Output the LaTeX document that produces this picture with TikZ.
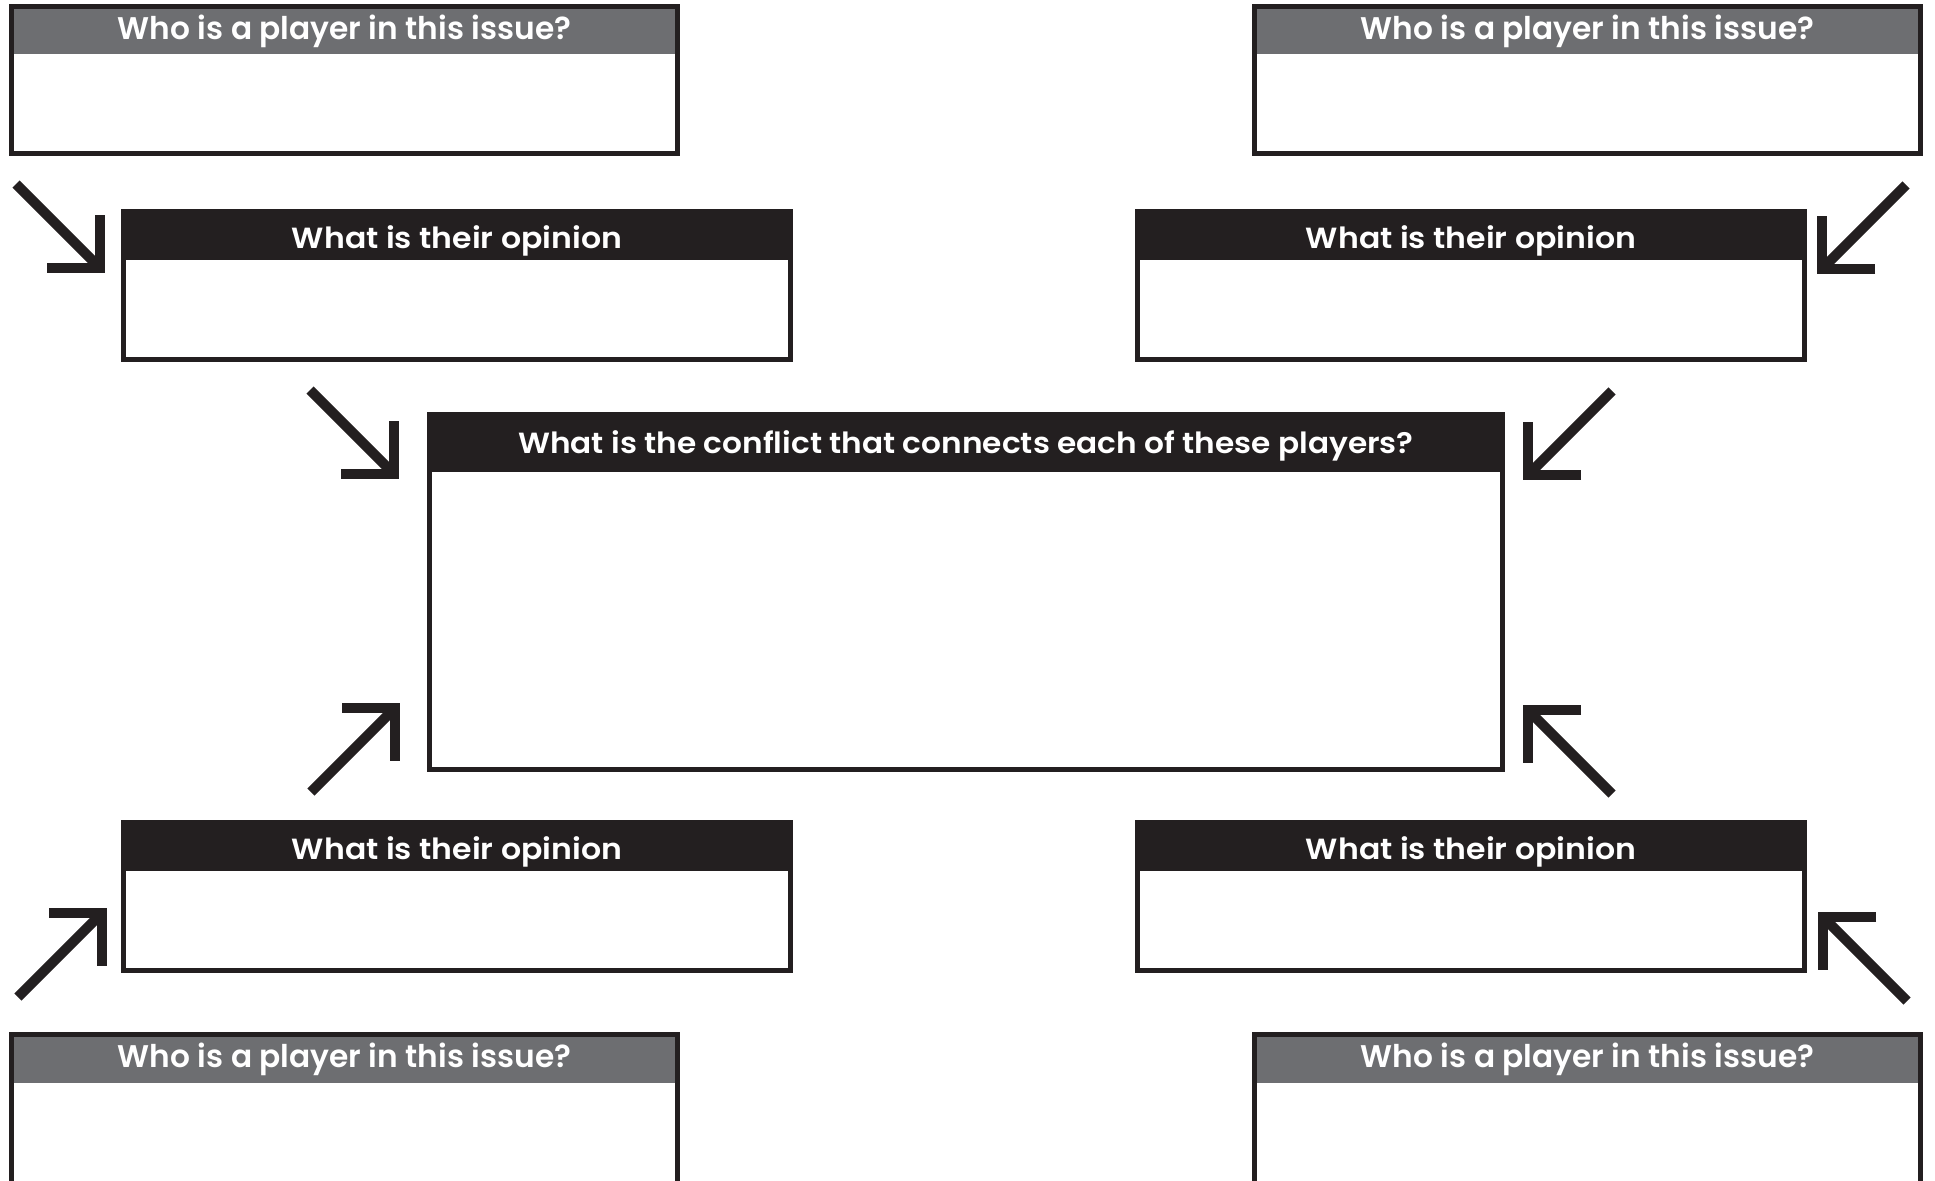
\documentclass[tikz,border=0pt]{standalone}
\usepackage{fontspec}
\setmainfont{Poppins}[BoldFont={Poppins SemiBold}]
\usepackage{graphicx}
\definecolor{ink}{HTML}{231F20}
\definecolor{hgray}{HTML}{6D6E71}
\tikzset{
  boxline/.style={draw=ink, line width=0.05cm, inner sep=0pt, outer sep=0pt, rectangle},
  arrowline/.style={draw=ink, line width=0.10cm, line join=miter, line cap=butt},
  headtext/.style={text=white, inner sep=0pt, outer sep=0pt, anchor=base, font=\bfseries},
}
% name, x0, y0, x1, y1, header bottom, header colour
\newcommand\qbox[7]{%
  \fill[#7] (#2,#3) rectangle (#4,#6);
  \node[boxline, minimum width={(#4-#2-5)*0.01cm}, minimum height={(#5-#3-5)*0.01cm}] (#1) at ({(#2+#4)/2},{(#3+#5)/2}) {};
}
% name, x centre, baseline, width, font size (pt), text
\newcommand\qtext[6]{%
  \node[headtext] (#1) at (#2,#3) {\fontsize{#5}{#5}\selectfont\resizebox{#4}{\height}{#6}};
}
% name, corner x, corner y, dir x, dir y
\newcommand\qarrow[5]{%
  \coordinate (#1c) at (#2,#3);
  \coordinate (#1t) at ({#2-84*#4},{#3-84*#5});
  \coordinate (#1a) at ({#2-53*#4},#3);
  \coordinate (#1b) at (#2,{#3-53*#5});
  \draw[arrowline] (#1t) -- (#1c);
  \draw[arrowline] (#1a) -- (#1c) -- (#1b);
}
\begin{document}
\begin{tikzpicture}[x=0.01cm, y=-0.01cm]
  \useasboundingbox (0,0) rectangle (1935,1181);
  \clip (0,0) rectangle (1935,1181);
  % player boxes
  \qbox{p1}{9}{4}{680}{156}{54}{hgray}
  \qbox{p2}{1252}{4}{1923}{156}{54}{hgray}
  \qbox{p3}{9}{1032}{680}{1200}{1083}{hgray}
  \qbox{p4}{1252}{1032}{1923}{1200}{1083}{hgray}
  % opinion boxes
  \qbox{o1}{121}{209}{793}{362}{260}{ink}
  \qbox{o2}{1135}{209}{1807}{362}{260}{ink}
  \qbox{o3}{121}{820}{793}{973}{871}{ink}
  \qbox{o4}{1135}{820}{1807}{973}{871}{ink}
  % centre box
  \qbox{c}{427}{412}{1505}{772}{472}{ink}
  % header texts
  \qtext{p1t}{344.5}{39.5}{4.53cm}{8.9}{Who is a player in this issue?}
  \qtext{p2t}{1587.5}{39.5}{4.53cm}{8.9}{Who is a player in this issue?}
  \qtext{p3t}{344.5}{1067.5}{4.53cm}{8.9}{Who is a player in this issue?}
  \qtext{p4t}{1587.5}{1067.5}{4.53cm}{8.9}{Who is a player in this issue?}
  \qtext{o1t}{457}{248}{3.30cm}{8.3}{What is their opinion}
  \qtext{o2t}{1471}{248}{3.30cm}{8.3}{What is their opinion}
  \qtext{o3t}{457}{859}{3.30cm}{8.3}{What is their opinion}
  \qtext{o4t}{1471}{859}{3.30cm}{8.3}{What is their opinion}
  \qtext{ct}{966}{453}{8.95cm}{8.3}{What is the conflict that connects each of these players?}
  % arrows
  \qarrow{a1}{100}{268}{1}{1}
  \qarrow{a2}{1822}{269}{-1}{1}
  \qarrow{a3}{394}{474}{1}{1}
  \qarrow{a4}{395}{708}{1}{-1}
  \qarrow{a5}{1528}{475}{-1}{1}
  \qarrow{a6}{1528}{710}{-1}{-1}
  \qarrow{a7}{102}{913}{1}{-1}
  \qarrow{a8}{1823}{917}{-1}{-1}
\end{tikzpicture}
\end{document}
